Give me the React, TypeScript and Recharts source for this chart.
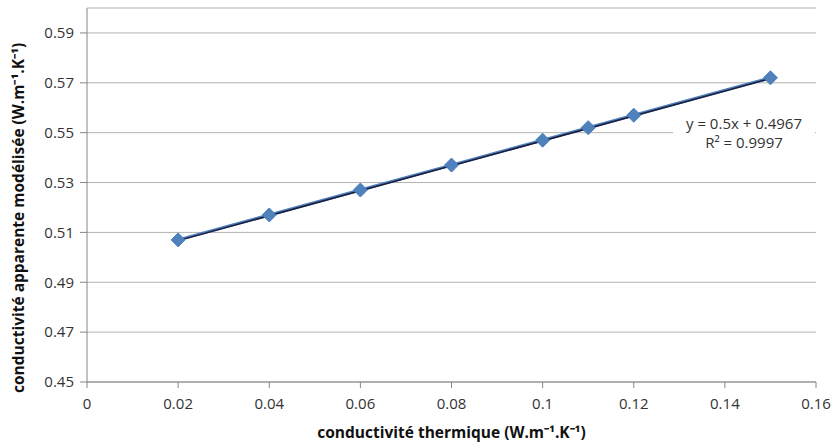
import { CartesianGrid, Line, LineChart, XAxis, YAxis } from 'recharts';

const conductivite = [0.02, 0.04, 0.06, 0.08, 0.1, 0.11, 0.12, 0.15];
const apparente = [0.507, 0.517, 0.527, 0.537, 0.547, 0.552, 0.557, 0.572];

const trendX = [0.02, 0.15];
const trendY = [0.5067, 0.5717];

const xTicks = [0, 0.02, 0.04, 0.06, 0.08, 0.1, 0.12, 0.14, 0.16];
const yTicks = [0.45, 0.47, 0.49, 0.51, 0.53, 0.55, 0.57, 0.59];

const equation = 'y = 0.5x + 0.4967';
const rSquared = 'R² = 0.9997';

const FONT = '"Open Sans", "Liberation Sans", sans-serif';

function Diamond(props: any) {
  const { cx, cy } = props;
  if (cx == null || cy == null) return null;
  const r = 7;
  return (
    <polygon
      points={`${cx},${cy - r} ${cx + r},${cy} ${cx},${cy + r} ${cx - r},${cy}`}
      fill="#4f81bd"
      stroke="#4a7ebb"
    />
  );
}

export default function App() {
  const points = conductivite.map((x, i) => ({ x, y: apparente[i] }));
  const trend = trendX.map((x, i) => ({ x, y: trendY[i] }));

  return (
    <div style={{ position: 'absolute', left: 0, top: 0, width: 832, height: 445, background: '#fff', fontFamily: FONT }}>
      <LineChart width={832} height={445} margin={{ top: 8, right: 16, bottom: 0, left: 27 }}>
        <CartesianGrid horizontal vertical={false} stroke="#b3b3b3" />
        <XAxis
          type="number"
          dataKey="x"
          domain={[0, 0.16]}
          ticks={xTicks}
          height={63}
          tickSize={6}
          tickMargin={10}
          stroke="#868686"
          tick={{ fill: '#333', fontSize: 15, fontFamily: FONT }}
          tickFormatter={(v: number) => String(Number(v.toFixed(2)))}
          label={{
            value: 'conductivité thermique (W.m⁻¹.K⁻¹)',
            position: 'insideBottom',
            offset: 7,
            fill: '#111',
            fontSize: 15.5,
            fontWeight: 'bold',
            fontFamily: FONT,
          }}
        />
        <YAxis
          type="number"
          domain={[0.45, 0.6]}
          ticks={yTicks}
          width={60}
          tickSize={7}
          tickMargin={6}
          stroke="#868686"
          tick={{ fill: '#333', fontSize: 15, fontFamily: FONT }}
          tickFormatter={(v: number) => v.toFixed(2)}
          label={{
            value: 'conductivité apparente modélisée (W.m⁻¹.K⁻¹)',
            angle: -90,
            position: 'insideLeft',
            dx: -14,
            dy: 198,
            fill: '#111',
            fontSize: 15.5,
            fontWeight: 'bold',
            fontFamily: FONT,
          }}
        />
        <Line
          data={points}
          dataKey="y"
          stroke="#4f81bd"
          strokeWidth={3}
          dot={<Diamond />}
          activeDot={false}
          isAnimationActive={false}
        />
        <Line
          data={trend}
          dataKey="y"
          stroke="#1b1b3a"
          strokeWidth={1.5}
          dot={false}
          activeDot={false}
          isAnimationActive={false}
        />
      </LineChart>
      <div
        style={{
          position: 'absolute',
          left: 673,
          top: 114,
          width: 142,
          height: 40,
          background: '#fff',
          textAlign: 'center',
          fontSize: 15,
          lineHeight: '19px',
          color: '#333',
        }}
      >
        <div>{equation}</div>
        <div>{rSquared}</div>
      </div>
    </div>
  );
}
